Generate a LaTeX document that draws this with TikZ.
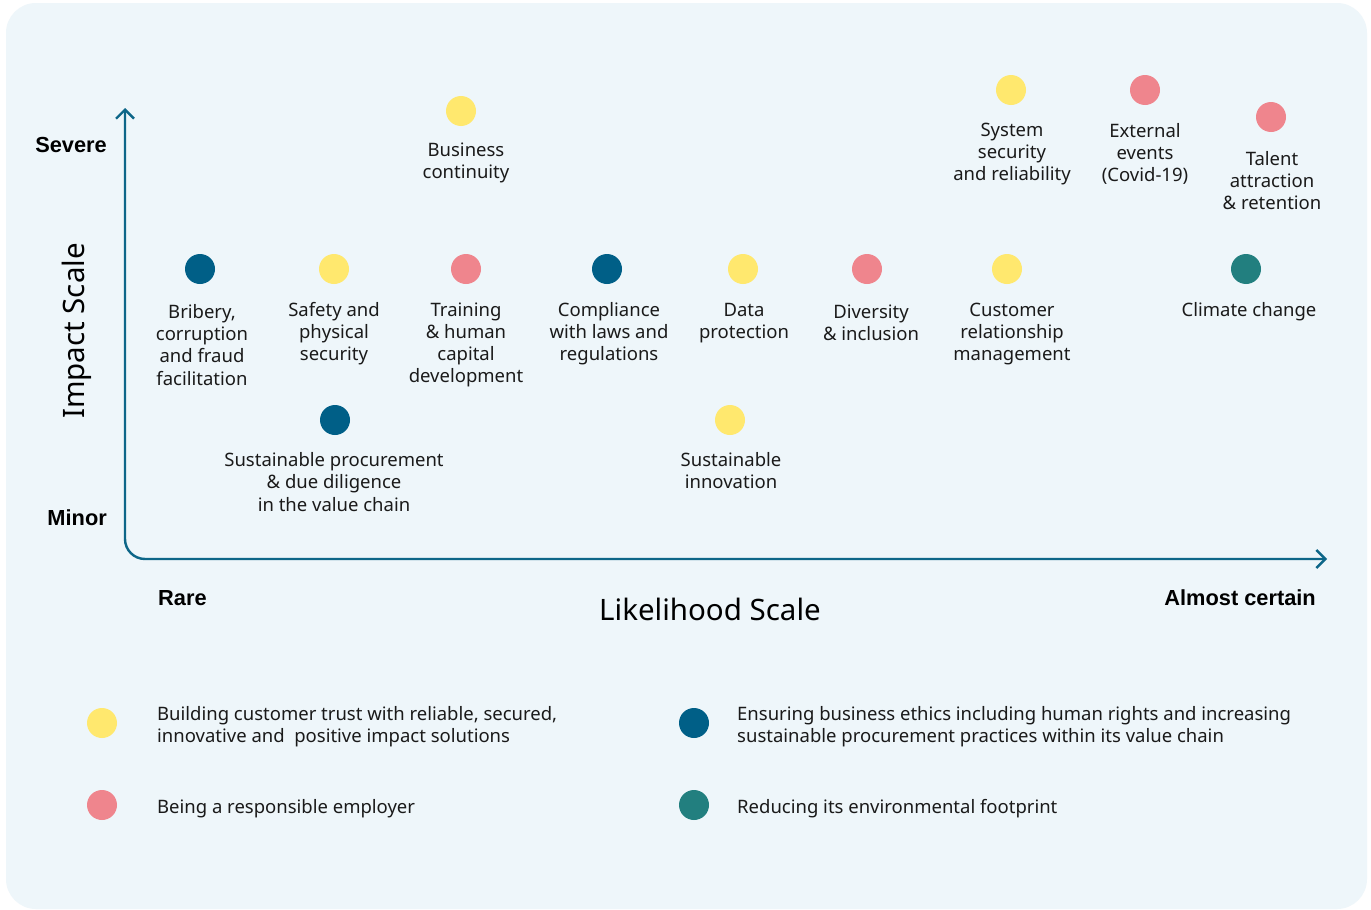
\documentclass[tikz,border=0pt]{standalone}
\usepackage{fontspec}
\setmainfont{Noto Sans}
\newfontfamily\boldf{Liberation Sans}[BoldFont={* Bold}]
\usetikzlibrary{arrows.meta}
\definecolor{bgc}{HTML}{EEF6FA}
\definecolor{axc}{HTML}{0D6688}
\definecolor{yel}{HTML}{FFE86E}
\definecolor{pnk}{HTML}{EF858D}
\definecolor{nav}{HTML}{005F87}
\definecolor{tel}{HTML}{227F7F}
\definecolor{txt}{HTML}{1A1A1A}
\tikzset{
  dot/.style={circle,inner sep=0pt,minimum size=30pt,draw=none},
  lbl/.style={align=center,inner sep=0pt,text=txt,font=\fontsize{18.5}{22.1}\selectfont},
  leg/.style={align=left,anchor=west,inner sep=0pt,text=txt,font=\fontsize{18.5}{22.1}\selectfont},
  axlbl/.style={inner sep=0pt,text=black,font=\fontsize{21.8}{24}\boldf\bfseries},
  ttl/.style={inner sep=0pt,text=black,font=\fontsize{29.5}{32}\selectfont},
  axis/.style={draw=axc,line width=2.4pt,rounded corners=20pt}
}
\begin{document}
\begin{tikzpicture}[x=1pt,y=-1pt]
\useasboundingbox (0,0) rectangle (1371,910);
\fill[white] (0,0) rectangle (1371,910);
\fill[bgc,rounded corners=30pt] (6,3) rectangle (1367,909);
% axes
\coordinate (ytop) at (125,108);
\coordinate (corner) at (125,559);
\coordinate (xend) at (1327,559);
\draw[axis,{Straight Barb[length=9pt,width=18pt]}-{Straight Barb[length=9pt,width=18pt]}] (ytop) -- (corner) -- (xend);
% axis labels
\node[axlbl,anchor=east] (severe) at (107,145) {Severe};
\node[axlbl,anchor=east] (minor) at (107,518) {Minor};
\node[axlbl,anchor=west] (rare) at (158,598) {Rare};
\node[axlbl,anchor=east] (almost) at (1316,598) {Almost certain};
\node[ttl] (impact) at (77,331) [rotate=90] {Impact Scale};
\node[ttl] (likely) at (710,609) {Likelihood Scale};
% dots
\node[dot,fill=yel] (d1) at (461,111) {};
\node[lbl] (t1) at (466,163) {Business\\continuity};
\node[dot,fill=yel] (d2) at (1011,90) {};
\node[lbl] (t2) at (1012,154) {System\\security\\and reliability};
\node[dot,fill=pnk] (d3) at (1145,90) {};
\node[lbl] (t3) at (1145,154) {External\\events\\(Covid-19)};
\node[dot,fill=pnk] (d4) at (1271,117) {};
\node[lbl] (t4) at (1272,180.5) {Talent\\attraction\\\& retention};
\node[dot,fill=nav] (d5) at (200,269) {};
\node[lbl] (t5) at (202,345) {Bribery,\\corruption\\and fraud\\facilitation};
\node[dot,fill=yel] (d6) at (334,269) {};
\node[lbl] (t6) at (334,334) {Safety and\\physical\\security};
\node[dot,fill=pnk] (d7) at (466,269) {};
\node[lbl] (t7) at (466,345) {Training\\\& human\\capital\\development};
\node[dot,fill=nav] (d8) at (607,269) {};
\node[lbl] (t8) at (609,334) {Compliance\\with laws and\\regulations};
\node[dot,fill=yel] (d9) at (743,269) {};
\node[lbl] (t9) at (744,323) {Data\\protection};
\node[dot,fill=pnk] (d10) at (867,269) {};
\node[lbl] (t10) at (871,323) {Diversity\\\& inclusion};
\node[dot,fill=yel] (d11) at (1007,269) {};
\node[lbl] (t11) at (1012,334) {Customer\\relationship\\management};
\node[dot,fill=tel] (d12) at (1246,269) {};
\node[lbl] (t12) at (1249,312) {Climate change};
\node[dot,fill=nav] (d13) at (335,420) {};
\node[lbl] (t13) at (334,482) {Sustainable procurement\\\& due diligence\\in the value chain};
\node[dot,fill=yel] (d14) at (730,420) {};
\node[lbl] (t14) at (731,471) {Sustainable\\innovation};
% legend
\node[dot,fill=yel] (l1) at (102,723) {};
\node[leg] (lt1) at (157,727) {Building customer trust with reliable, secured,\\innovative and\ \ positive impact solutions};
\node[dot,fill=pnk] (l2) at (102,805) {};
\node[leg] (lt2) at (157,809) {Being a responsible employer};
\node[dot,fill=nav] (l3) at (694,723) {};
\node[leg] (lt3) at (737,727) {Ensuring business ethics including human rights and increasing\\sustainable procurement practices within its value chain};
\node[dot,fill=tel] (l4) at (694,805) {};
\node[leg] (lt4) at (737,809) {Reducing its environmental footprint};
\end{tikzpicture}
\end{document}
